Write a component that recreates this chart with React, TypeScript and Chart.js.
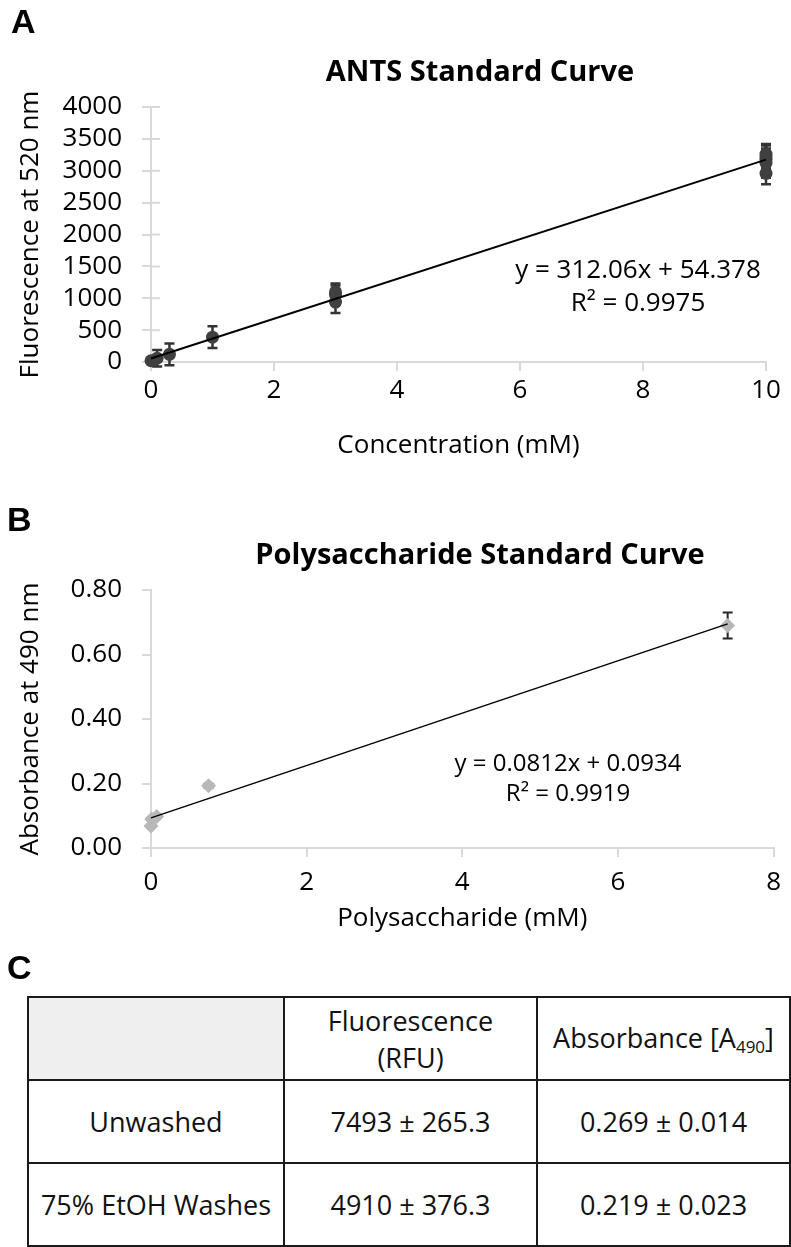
import React, { useEffect, useRef } from "react";
import { Chart, registerables } from "chart.js";

Chart.register(...registerables);

const FONT = "'Open Sans', 'DejaVu Sans', sans-serif";
const AXIS_GREY = "#d9d9d9";

// ---- Panel A: ANTS standard curve ----
const antsConcentration = [0, 0.1, 0.3, 1, 3, 3, 3, 10, 10, 10, 10, 10];
const antsFluorescence = [20, 60, 120, 390, 940, 1050, 1100, 2960, 3120, 3180, 3220, 3260];
const antsError = [20, 130, 170, 170, 170, 150, 130, 170, 230, 220, 180, 160];
const antsTrendX = [0, 10];
const antsTrendY = [54.4, 3175];
const antsXTicks = [0, 2, 4, 6, 8, 10];
const antsYTicks = [0, 500, 1000, 1500, 2000, 2500, 3000, 3500, 4000];

// ---- Panel B: Polysaccharide standard curve ----
const polyConcentration = [0, 0.01, 0.074, 0.74, 7.41];
const polyAbsorbance = [0.068, 0.09, 0.098, 0.193, 0.69];
const polyError = [0.004, 0.004, 0.004, 0.006, 0.04];
const polyTrendX = [0, 7.41];
const polyTrendY = [0.0934, 0.695];
const polyXTicks = [0, 2, 4, 6, 8];
const polyYTicks = [0, 0.2, 0.4, 0.6, 0.8];

// ---- Panel C: table ----
const tableRowLabels = ["Unwashed", "75% EtOH Washes"];
const fluorescenceValues = ["7493 ± 265.3", "4910 ± 376.3"];
const absorbanceValues = ["0.269 ± 0.014", "0.219 ± 0.023"];

const errorBarsPlugin = {
  id: "errorBars",
  beforeDatasetsDraw(chart: any) {
    const ctx = chart.ctx;
    const xs = chart.scales.x;
    const ys = chart.scales.y;
    chart.data.datasets.forEach((ds: any) => {
      if (!ds.errors) return;
      ctx.save();
      ctx.strokeStyle = ds.errorColor;
      ctx.lineWidth = ds.errorWidth;
      ds.data.forEach((p: any, j: number) => {
        const e = ds.errors[j];
        if (!e) return;
        const x = xs.getPixelForValue(p.x);
        const y1 = ys.getPixelForValue(p.y + e);
        const y2 = ys.getPixelForValue(p.y - e);
        const c = ds.errorCap / 2;
        ctx.beginPath();
        ctx.moveTo(x, y1);
        ctx.lineTo(x, y2);
        ctx.moveTo(x - c, y1);
        ctx.lineTo(x + c, y1);
        ctx.moveTo(x - c, y2);
        ctx.lineTo(x + c, y2);
        ctx.stroke();
      });
      ctx.restore();
    });
  },
};

const innerTicksPlugin = {
  id: "innerTicks",
  beforeDatasetsDraw(chart: any, _args: any, opts: any) {
    if (!opts.length) return;
    const ctx = chart.ctx;
    const { left } = chart.chartArea;
    ctx.save();
    ctx.strokeStyle = opts.color;
    ctx.lineWidth = opts.width;
    ctx.beginPath();
    chart.scales.y.ticks.forEach((t: any) => {
      const y = chart.scales.y.getPixelForValue(t.value);
      ctx.moveTo(left, y);
      ctx.lineTo(left + opts.length, y);
    });
    ctx.stroke();
    ctx.restore();
  },
};

const labelsPlugin = {
  id: "textLabels",
  afterDraw(chart: any, _args: any, opts: any) {
    const ctx = chart.ctx;
    ctx.save();
    ctx.fillStyle = "#000";
    ctx.textAlign = "center";
    ctx.textBaseline = "middle";
    (opts.items || []).forEach((it: any) => {
      ctx.font = it.font;
      ctx.fillText(it.text, it.x, it.y);
    });
    ctx.restore();
  },
};

function makeConfig(p: any) {
  const tickFont = { family: FONT, size: 26 };
  const titleFont = { family: FONT, size: 26 };
  return {
    type: "scatter",
    data: {
      datasets: [
        {
          data: p.trendX.map((x: number, i: number) => ({ x, y: p.trendY[i] })),
          showLine: true,
          borderColor: "#000",
          borderWidth: p.trendWidth,
          pointRadius: 0,
          clip: false,
        },
        {
          data: p.xs.map((x: number, i: number) => ({ x, y: p.ys[i] })),
          errors: p.errors,
          errorColor: p.errorColor,
          errorWidth: p.errorWidth,
          errorCap: 10,
          pointStyle: p.pointStyle,
          pointRadius: p.pointRadius,
          backgroundColor: p.pointColor,
          borderColor: p.pointColor,
          borderWidth: 0,
          clip: false,
        },
      ],
    },
    options: {
      animation: false,
      responsive: false,
      maintainAspectRatio: false,
      layout: { padding: { top: p.areaTop, right: p.padRight, left: 0, bottom: 0 } },
      plugins: {
        legend: { display: false },
        tooltip: { enabled: false },
        title: { display: false },
        innerTicks: { color: AXIS_GREY, width: 2, length: p.innerTick },
        textLabels: { items: p.texts },
      },
      scales: {
        x: {
          type: "linear",
          min: p.xTicks[0],
          max: p.xTicks[p.xTicks.length - 1],
          afterBuildTicks: (s: any) => {
            s.ticks = p.xTicks.map((v: number) => ({ value: v }));
          },
          afterFit: (s: any) => {
            s.height = p.xAxisHeight;
          },
          grid: { drawOnChartArea: false, drawTicks: true, tickLength: 9, color: AXIS_GREY, lineWidth: 2 },
          border: { color: AXIS_GREY, width: 2 },
          ticks: {
            padding: p.xTickPad,
            font: tickFont,
            color: "#000",
            maxRotation: 0,
            autoSkip: false,
            callback: (v: number) => String(v),
          },
          title: { display: true, text: p.xTitle, font: titleFont, color: "#000", padding: { top: 0, bottom: p.xTitlePad } },
        },
        y: {
          type: "linear",
          min: p.yTicks[0],
          max: p.yTicks[p.yTicks.length - 1],
          afterBuildTicks: (s: any) => {
            s.ticks = p.yTicks.map((v: number) => ({ value: v }));
          },
          afterFit: (s: any) => {
            s.width = 151;
          },
          grid: { drawOnChartArea: false, drawTicks: true, tickLength: 9, color: AXIS_GREY, lineWidth: 2 },
          border: { color: AXIS_GREY, width: 2 },
          ticks: { padding: 20, font: tickFont, color: "#000", autoSkip: false, callback: p.yFormat },
          title: { display: true, text: p.yTitle, font: titleFont, color: "#000", padding: { top: 15, bottom: 0 } },
        },
      },
    },
    plugins: [errorBarsPlugin, innerTicksPlugin, labelsPlugin],
  };
}

function ChartCanvas({ top, height, params }: any) {
  const ref = useRef<HTMLCanvasElement | null>(null);
  useEffect(() => {
    const chart = new Chart(ref.current as any, makeConfig(params) as any);
    return () => chart.destroy();
  }, []);
  return (
    <canvas
      ref={ref}
      width={791}
      height={height}
      style={{ position: "absolute", left: 0, top, width: 791, height }}
    />
  );
}

const antsParams = {
  xs: antsConcentration,
  ys: antsFluorescence,
  errors: antsError,
  trendX: antsTrendX,
  trendY: antsTrendY,
  xTicks: antsXTicks,
  yTicks: antsYTicks,
  xTitle: "Concentration (mM)",
  yTitle: "Fluorescence at 520 nm",
  yFormat: (v: number) => String(v),
  pointStyle: "circle",
  pointRadius: 6.5,
  pointColor: "#404040",
  errorColor: "#333333",
  errorWidth: 2.5,
  trendWidth: 2,
  innerTick: 9,
  areaTop: 107,
  padRight: 25,
  xAxisHeight: 118,
  xTickPad: 4,
  xTitlePad: 19,
  texts: [
    { text: "ANTS Standard Curve", x: 480, y: 73, font: `bold 29px ${FONT}` },
    { text: "y = 312.06x + 54.378", x: 638, y: 271, font: `26px ${FONT}` },
    { text: "R² = 0.9975", x: 638, y: 304, font: `26px ${FONT}` },
  ],
};

const polyParams = {
  xs: polyConcentration,
  ys: polyAbsorbance,
  errors: polyError,
  trendX: polyTrendX,
  trendY: polyTrendY,
  xTicks: polyXTicks,
  yTicks: polyYTicks,
  xTitle: "Polysaccharide (mM)",
  yTitle: "Absorbance at 490 nm",
  yFormat: (v: number) => v.toFixed(2),
  pointStyle: "rectRot",
  pointRadius: 7.5,
  pointColor: "#b8b8b8",
  errorColor: "#262626",
  errorWidth: 2,
  trendWidth: 1.5,
  innerTick: 0,
  areaTop: 110,
  padRight: 11,
  xAxisHeight: 112,
  xTickPad: 10,
  xTitlePad: 26,
  texts: [
    { text: "Polysaccharide Standard Curve", x: 480, y: 76, font: `bold 29px ${FONT}` },
    { text: "y = 0.0812x + 0.0934", x: 568, y: 284, font: `24px ${FONT}` },
    { text: "R² = 0.9919", x: 568, y: 314, font: `24px ${FONT}` },
  ],
};

const letterStyle: any = {
  position: "absolute",
  fontFamily: "'Liberation Sans', Arial, sans-serif",
  fontWeight: "bold",
  fontSize: 34,
  lineHeight: "34px",
  color: "#000",
};

const cellStyle: any = {
  border: "2px solid #1a1a1a",
  textAlign: "center",
  verticalAlign: "middle",
  padding: 0,
  height: 81,
};

export default function App() {
  return (
    <div
      style={{
        position: "absolute",
        left: 0,
        top: 0,
        width: 791,
        height: 1247,
        background: "#fff",
        fontFamily: FONT,
        overflow: "hidden",
      }}
    >
      <ChartCanvas top={0} height={480} params={antsParams} />
      <ChartCanvas top={480} height={480} params={polyParams} />
      <div style={{ ...letterStyle, left: 11, top: 4 }}>A</div>
      <div style={{ ...letterStyle, left: 7, top: 502 }}>B</div>
      <div style={{ ...letterStyle, left: 7, top: 950 }}>C</div>
      <table
        style={{
          position: "absolute",
          left: 27,
          top: 996,
          width: 762,
          borderCollapse: "collapse",
          fontSize: 27,
          color: "#111",
          tableLayout: "fixed",
        }}
      >
        <colgroup>
          <col style={{ width: 256 }} />
          <col style={{ width: 253 }} />
          <col style={{ width: 253 }} />
        </colgroup>
        <tbody>
          <tr>
            <td style={{ ...cellStyle, background: "#efefef" }}></td>
            <td style={{ ...cellStyle, lineHeight: "37px" }}>
              Fluorescence
              <br />
              (RFU)
            </td>
            <td style={cellStyle}>
              Absorbance [A<sub style={{ fontSize: 17, verticalAlign: "-5px" }}>490</sub>]
            </td>
          </tr>
          {tableRowLabels.map((label, i) => (
            <tr key={label}>
              <td style={cellStyle}>{label}</td>
              <td style={cellStyle}>{fluorescenceValues[i]}</td>
              <td style={cellStyle}>{absorbanceValues[i]}</td>
            </tr>
          ))}
        </tbody>
      </table>
    </div>
  );
}
